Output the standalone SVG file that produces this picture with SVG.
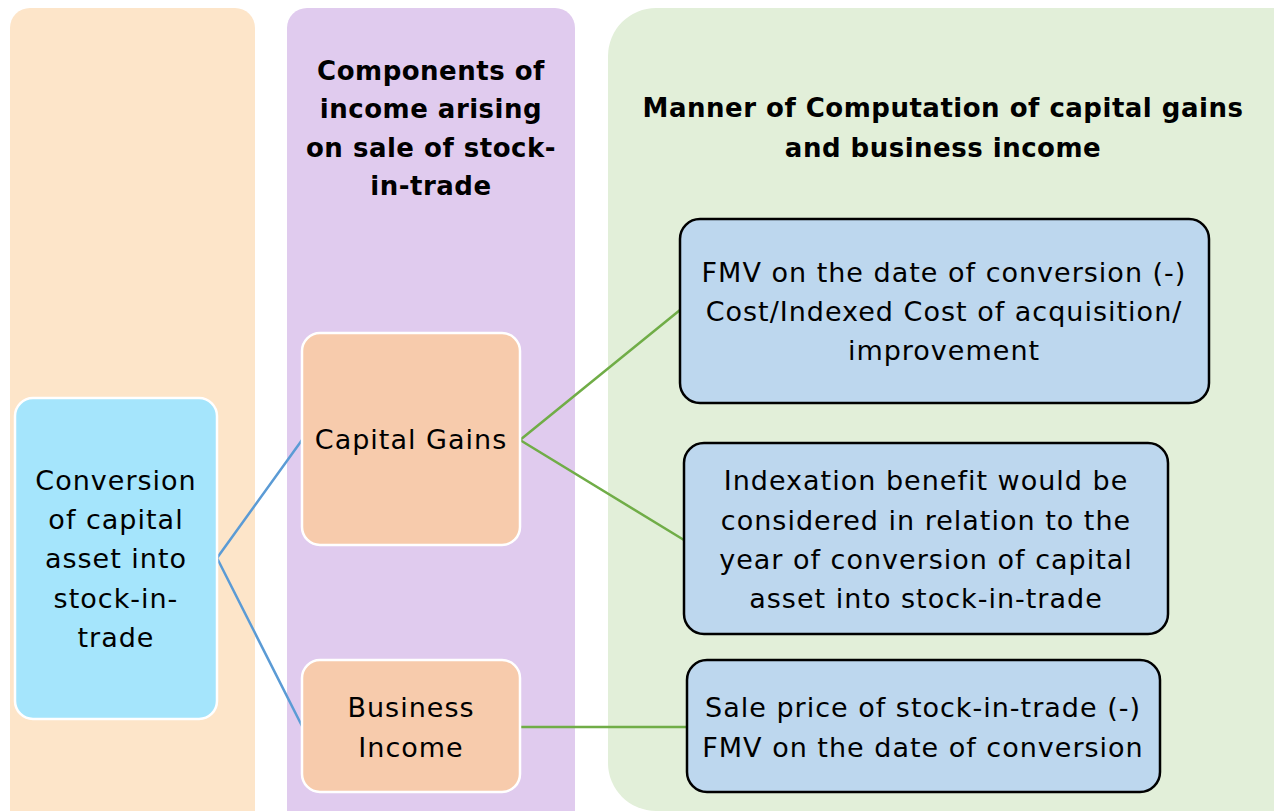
<svg xmlns="http://www.w3.org/2000/svg" width="1274" height="811" viewBox="0 0 1274 811">
<style>
.t{font-family:"DejaVu Sans","Open Sans","Liberation Sans",sans-serif;font-size:27px;letter-spacing:1px;fill:#000;text-anchor:middle}
.h{font-family:"DejaVu Sans","Open Sans","Liberation Sans",sans-serif;font-size:26px;letter-spacing:0.5px;font-weight:700;fill:#000;text-anchor:middle}
.lt{stroke:#fff;stroke-width:2.5}
.bx{fill:#bdd7ee;stroke:#000;stroke-width:2.5}
.cb{stroke:#5b9bd5;stroke-width:2.5;fill:none}
.cg{stroke:#70ad47;stroke-width:2.5;fill:none}
</style>
<rect width="1274" height="811" fill="#fff"/>
<g id="col1"><rect x="10" y="8" width="245" height="830" rx="20" fill="#fde5c9"/></g>
<g id="col2"><rect x="287" y="8" width="288" height="830" rx="20" fill="#e0cbee"/>
<text class="h" x="431" y="80">Components of</text>
<text class="h" x="431" y="118">income arising</text>
<text class="h" x="431" y="157">on sale of stock-</text>
<text class="h" x="431" y="195">in-trade</text>
</g>
<g id="col3"><rect x="608" y="8" width="720" height="803" rx="48" fill="#e2efd9"/>
<text class="h" x="943" y="117">Manner of Computation of capital gains</text>
<text class="h" x="943" y="157">and business income</text>
</g>
<g id="connectors">
<path class="cb" d="M217 558 L302 440 M217 558 L302 726"/>
<path class="cg" d="M520 440 L680 310 M520 440 L684 540 M520 727 L687 727"/>
</g>
<g id="conversion"><rect x="15" y="398" width="202" height="321" rx="18" class="lt" style="fill:#a5e5fc"/>
<text class="t" x="116" y="490">Conversion</text>
<text class="t" x="116" y="529">of capital</text>
<text class="t" x="116" y="568">asset into</text>
<text class="t" x="116" y="608">stock-in-</text>
<text class="t" x="116" y="647">trade</text>
</g>
<g id="capital-gains"><rect x="302" y="333" width="218" height="212" rx="18" class="lt" style="fill:#f7cbac"/>
<text class="t" x="411" y="449">Capital Gains</text>
</g>
<g id="business-income"><rect x="302" y="660" width="218" height="132" rx="18" class="lt" style="fill:#f7cbac"/>
<text class="t" x="411" y="717">Business</text>
<text class="t" x="411" y="757">Income</text>
</g>
<g id="fmv"><rect class="bx" x="680" y="219" width="529" height="184" rx="20"/>
<text class="t" x="944" y="282">FMV on the date of conversion (-)</text>
<text class="t" x="944" y="321">Cost/Indexed Cost of acquisition/</text>
<text class="t" x="944" y="360">improvement</text>
</g>
<g id="indexation"><rect class="bx" x="684" y="443" width="484" height="191" rx="20"/>
<text class="t" x="926" y="490">Indexation benefit would be</text>
<text class="t" x="926" y="530">considered in relation to the</text>
<text class="t" x="926" y="569">year of conversion of capital</text>
<text class="t" x="926" y="608">asset into stock-in-trade</text>
</g>
<g id="sale"><rect class="bx" x="687" y="660" width="473" height="132" rx="20"/>
<text class="t" x="923" y="717">Sale price of stock-in-trade (-)</text>
<text class="t" x="923" y="757">FMV on the date of conversion</text>
</g>
</svg>
